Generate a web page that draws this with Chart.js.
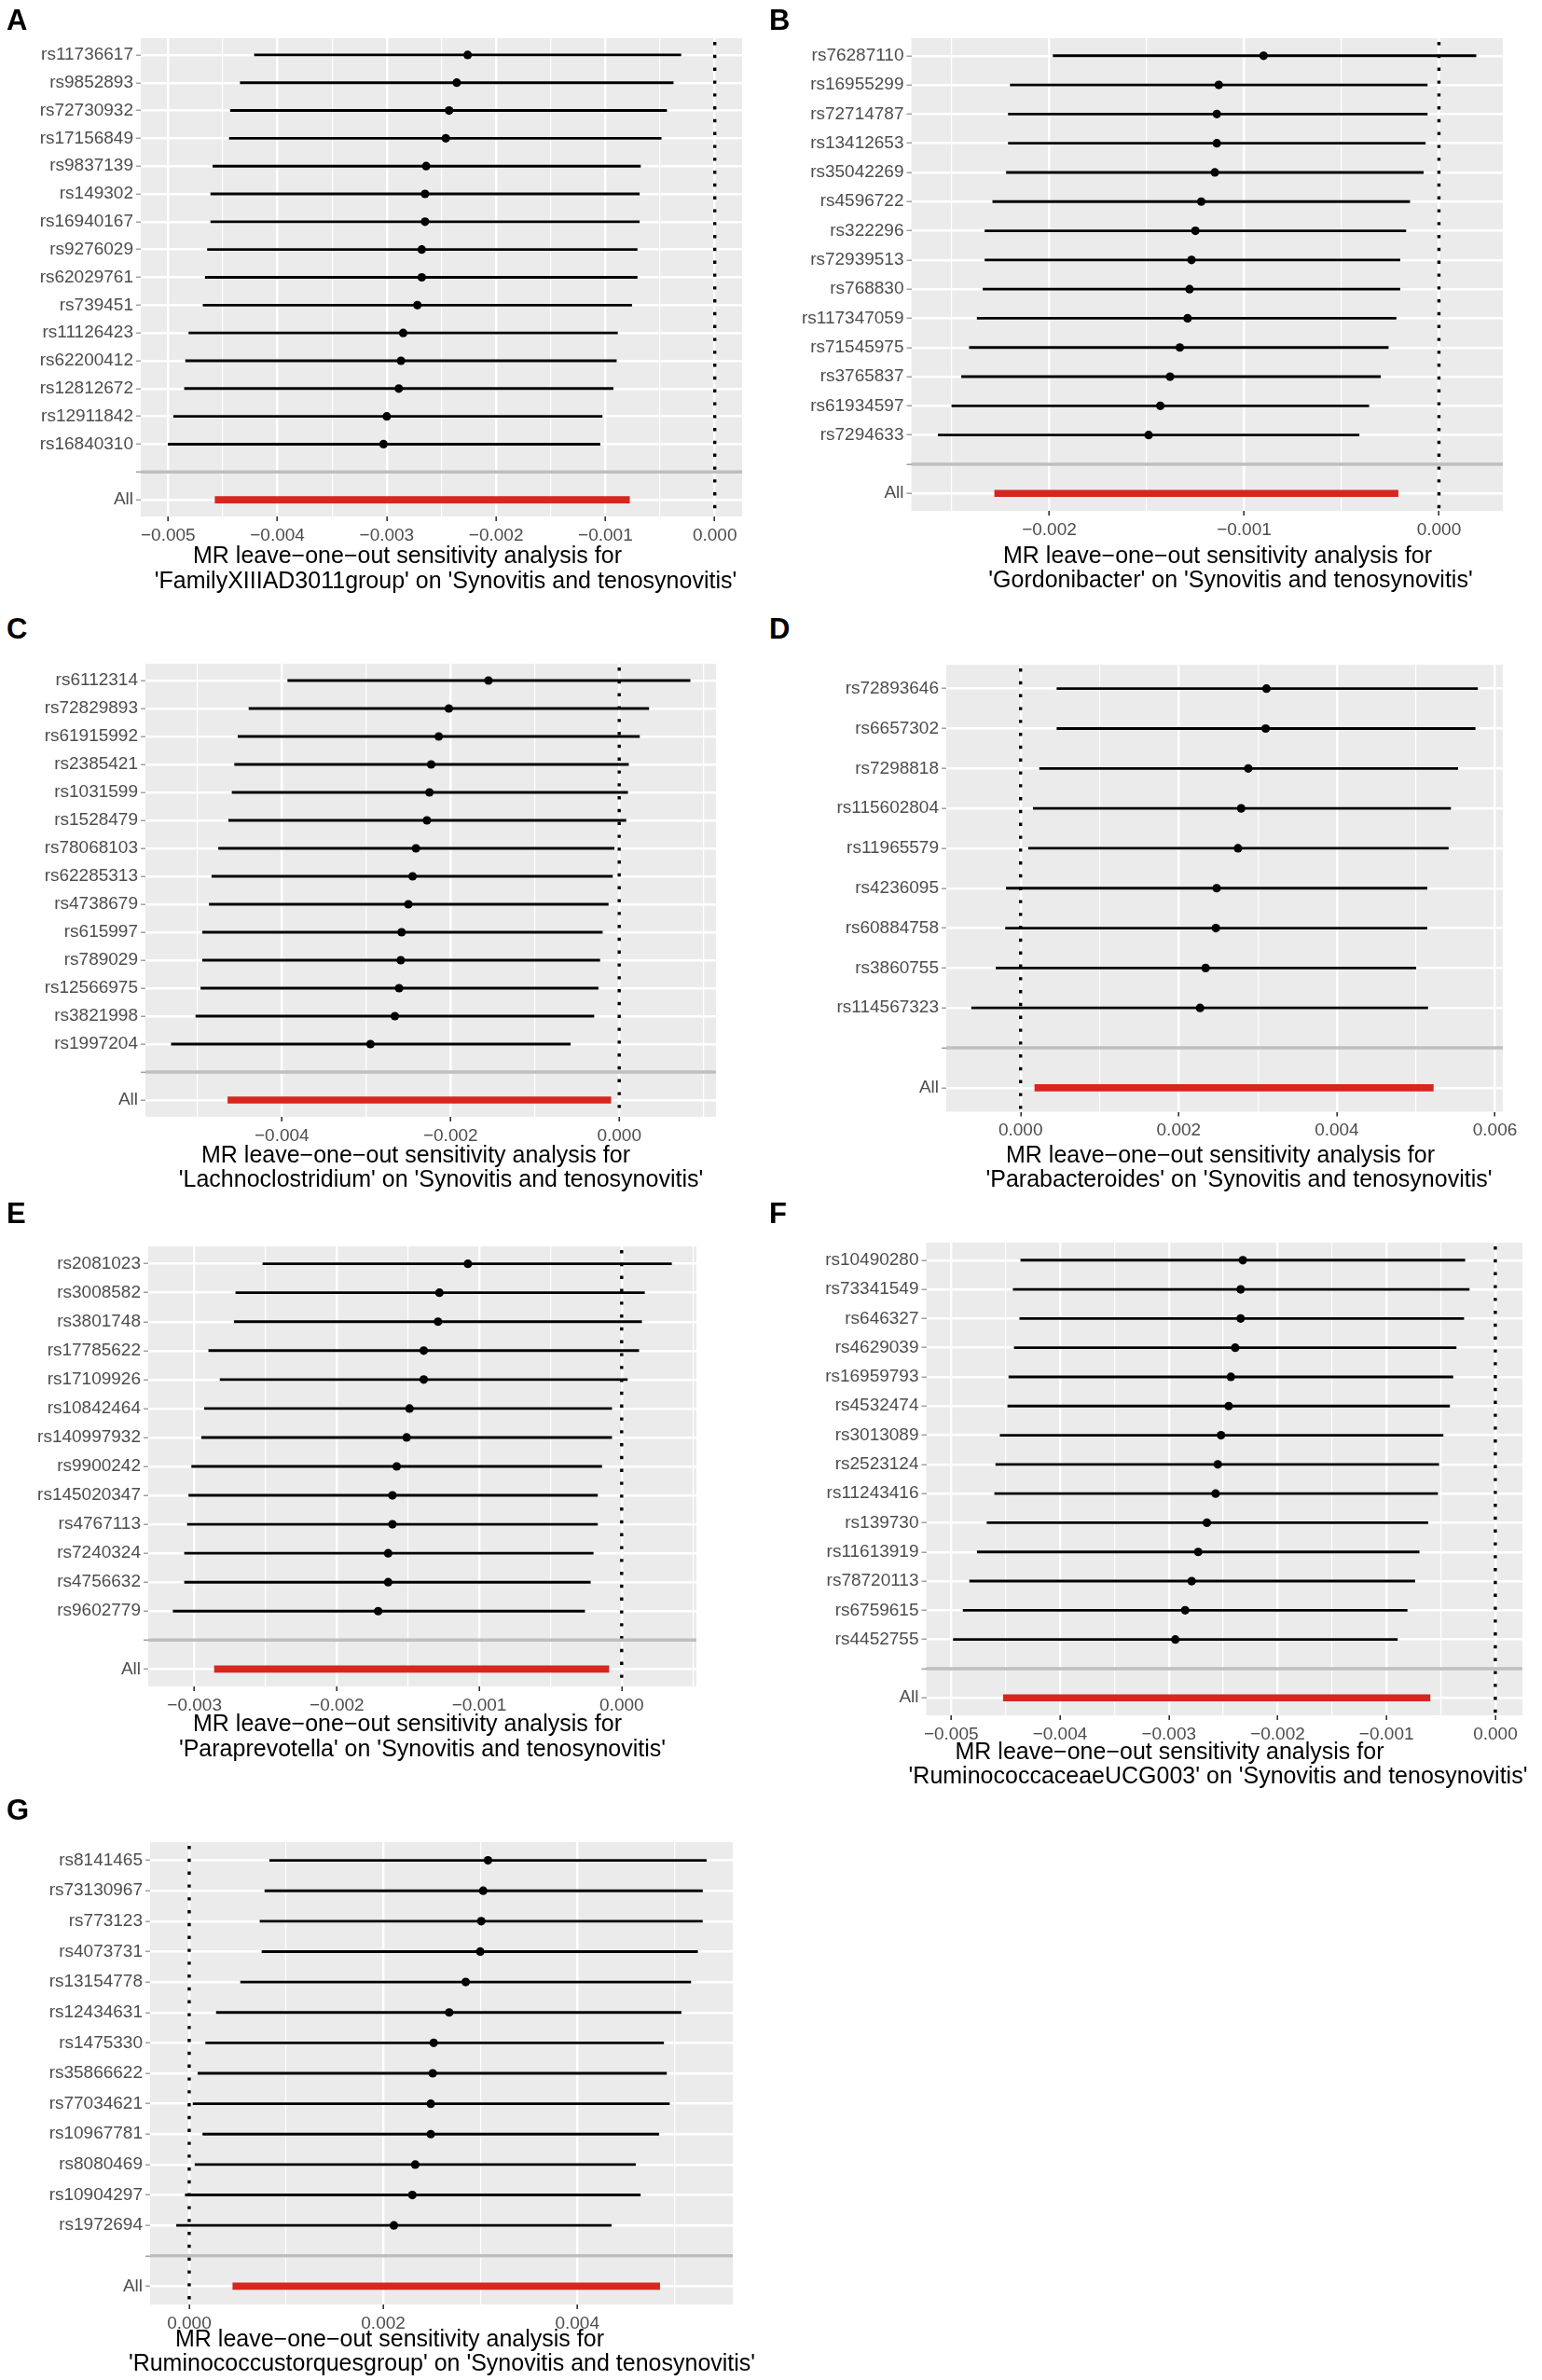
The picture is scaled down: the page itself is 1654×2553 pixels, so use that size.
<!DOCTYPE html>
<html>
<head>
<meta charset="utf-8">
<script src="https://cdn.jsdelivr.net/npm/chart.js@4.4.1/dist/chart.umd.min.js"></script>
<style>
  html, body { margin: 0; padding: 0; background: #fff; overflow: hidden; }
  #page { position: relative; width: 1654px; height: 2553px; }
  canvas { position: absolute; }
  .tag { position: absolute; font: bold 31px 'Liberation Sans', Arial, sans-serif; line-height: 1; color: #000; }
</style>
</head>
<body>
<div id="page"></div>
<script>
// ---- data (estimated from the figure) ----
// A: FamilyXIIIAD3011group
const snpsA = ['rs11736617','rs9852893','rs72730932','rs17156849','rs9837139','rs149302','rs16940167','rs9276029','rs62029761','rs739451','rs11126423','rs62200412','rs12812672','rs12911842','rs16840310'];
const betaA = [-0.00226,-0.00236,-0.00243,-0.00246,-0.00264,-0.00265,-0.00265,-0.00268,-0.00268,-0.00272,-0.00285,-0.00287,-0.00289,-0.00300,-0.00303];
const loA   = [-0.00421,-0.00434,-0.00443,-0.00444,-0.00459,-0.00461,-0.00461,-0.00464,-0.00466,-0.00468,-0.00481,-0.00484,-0.00485,-0.00495,-0.00500];
const hiA   = [-0.00031,-0.00038,-0.00044,-0.00049,-0.00068,-0.00069,-0.00069,-0.00071,-0.00071,-0.00076,-0.00089,-0.00090,-0.00093,-0.00103,-0.00105];
const allA  = [-0.00268,-0.00457,-0.00078];

// B: Gordonibacter
const snpsB = ['rs76287110','rs16955299','rs72714787','rs13412653','rs35042269','rs4596722','rs322296','rs72939513','rs768830','rs117347059','rs71545975','rs3765837','rs61934597','rs7294633'];
const betaB = [-0.00090,-0.00113,-0.00114,-0.00114,-0.00115,-0.00122,-0.00125,-0.00127,-0.00128,-0.00129,-0.00133,-0.00138,-0.00143,-0.00149];
const loB   = [-0.00198,-0.00220,-0.00221,-0.00221,-0.00222,-0.00229,-0.00233,-0.00233,-0.00234,-0.00237,-0.00241,-0.00245,-0.00250,-0.00257];
const hiB   = [0.00019,-0.00006,-0.00006,-0.00007,-0.00008,-0.00015,-0.00017,-0.00020,-0.00020,-0.00022,-0.00026,-0.00030,-0.00036,-0.00041];
const allB  = [-0.00124,-0.00228,-0.00021];

// C: Lachnoclostridium
const snpsC = ['rs6112314','rs72829893','rs61915992','rs2385421','rs1031599','rs1528479','rs78068103','rs62285313','rs4738679','rs615997','rs789029','rs12566975','rs3821998','rs1997204'];
const betaC = [-0.00155,-0.00202,-0.00214,-0.00223,-0.00225,-0.00228,-0.00241,-0.00245,-0.00250,-0.00258,-0.00259,-0.00261,-0.00266,-0.00295];
const loC   = [-0.00393,-0.00439,-0.00452,-0.00456,-0.00459,-0.00463,-0.00475,-0.00483,-0.00486,-0.00494,-0.00494,-0.00496,-0.00502,-0.00531];
const hiC   = [0.00084,0.00035,0.00024,0.00011,0.00010,0.00008,-0.00006,-0.00008,-0.00013,-0.00020,-0.00023,-0.00025,-0.00030,-0.00058];
const allC  = [-0.00237,-0.00464,-0.00010];

// D: Parabacteroides
const snpsD = ['rs72893646','rs6657302','rs7298818','rs115602804','rs11965579','rs4236095','rs60884758','rs3860755','rs114567323'];
const betaD = [0.00311,0.00310,0.00288,0.00279,0.00275,0.00248,0.00247,0.00234,0.00227];
const loD   = [0.00046,0.00046,0.00024,0.00016,0.00010,-0.00018,-0.00019,-0.00031,-0.00062];
const hiD   = [0.00578,0.00575,0.00553,0.00544,0.00541,0.00514,0.00514,0.00500,0.00515];
const allD  = [0.00270,0.00018,0.00522];

// E: Paraprevotella
const snpsE = ['rs2081023','rs3008582','rs3801748','rs17785622','rs17109926','rs10842464','rs140997932','rs9900242','rs145020347','rs4767113','rs7240324','rs4756632','rs9602779'];
const betaE = [-0.00108,-0.00128,-0.00129,-0.00139,-0.00139,-0.00149,-0.00151,-0.00158,-0.00161,-0.00161,-0.00164,-0.00164,-0.00171];
const loE   = [-0.00252,-0.00271,-0.00272,-0.00290,-0.00282,-0.00293,-0.00295,-0.00302,-0.00304,-0.00305,-0.00307,-0.00307,-0.00315];
const hiE   = [0.00035,0.00016,0.00014,0.00012,0.00004,-0.00007,-0.00007,-0.00014,-0.00017,-0.00017,-0.00020,-0.00022,-0.00026];
const allE  = [-0.00148,-0.00286,-0.00009];

// F: RuminococcaceaeUCG003
const snpsF = ['rs10490280','rs73341549','rs646327','rs4629039','rs16959793','rs4532474','rs3013089','rs2523124','rs11243416','rs139730','rs11613919','rs78720113','rs6759615','rs4452755'];
const betaF = [-0.00232,-0.00234,-0.00234,-0.00239,-0.00243,-0.00245,-0.00252,-0.00255,-0.00257,-0.00265,-0.00273,-0.00279,-0.00285,-0.00294];
const loF   = [-0.00436,-0.00443,-0.00437,-0.00442,-0.00447,-0.00448,-0.00455,-0.00459,-0.00460,-0.00467,-0.00476,-0.00483,-0.00489,-0.00498];
const hiF   = [-0.00028,-0.00024,-0.00029,-0.00036,-0.00039,-0.00042,-0.00048,-0.00052,-0.00053,-0.00062,-0.00070,-0.00074,-0.00081,-0.00090];
const allF  = [-0.00256,-0.00452,-0.00060];

// G: Ruminococcustorquesgroup
const snpsG = ['rs8141465','rs73130967','rs773123','rs4073731','rs13154778','rs12434631','rs1475330','rs35866622','rs77034621','rs10967781','rs8080469','rs10904297','rs1972694'];
const betaG = [0.00308,0.00303,0.00301,0.00300,0.00285,0.00268,0.00252,0.00251,0.00249,0.00249,0.00233,0.00230,0.00211];
const loG   = [0.00083,0.00078,0.00073,0.00075,0.00053,0.00028,0.00017,0.00009,0.00004,0.00014,0.00006,-0.00004,-0.00013];
const hiG   = [0.00533,0.00529,0.00529,0.00524,0.00517,0.00507,0.00489,0.00492,0.00495,0.00484,0.00460,0.00465,0.00435];
const allG  = [0.00265,0.00045,0.00485];

const outcome = 'Synovitis and tenosynovitis';

// ---- layout (page pixels) ----
const panels = [
  { tag: 'A', exposure: 'FamilyXIIIAD3011group', snps: snpsA, b: betaA, lo: loA, hi: hiA, all: allA, step: 0.001,
    g: { boxLeft: 0, L: 151, T: 41, R: 796, B: 554, t1y: 597, t2y: 624, c1x: 437, c2x: 478, tx: 7, ty: 10 } },
  { tag: 'B', exposure: 'Gordonibacter', snps: snpsB, b: betaB, lo: loB, hi: hiB, all: allB, step: 0.001,
    g: { boxLeft: 823, L: 977.5, T: 41, R: 1611.5, B: 548, t1y: 597, t2y: 623, c1x: 1306, c2x: 1320, tx: 825, ty: 10 } },
  { tag: 'C', exposure: 'Lachnoclostridium', snps: snpsC, b: betaC, lo: loC, hi: hiC, all: allC, step: 0.002,
    g: { boxLeft: 0, L: 156, T: 712, R: 768, B: 1198, t1y: 1240, t2y: 1266, c1x: 446, c2x: 473, tx: 7, ty: 663 } },
  { tag: 'D', exposure: 'Parabacteroides', snps: snpsD, b: betaD, lo: loD, hi: hiD, all: allD, step: 0.002,
    g: { boxLeft: 823, L: 1015, T: 713, R: 1611.5, B: 1192.5, t1y: 1240, t2y: 1266, c1x: 1309, c2x: 1329, tx: 825, ty: 663 } },
  { tag: 'E', exposure: 'Paraprevotella', snps: snpsE, b: betaE, lo: loE, hi: hiE, all: allE, step: 0.001,
    g: { boxLeft: 0, L: 159, T: 1337, R: 747, B: 1809, t1y: 1850, t2y: 1877, c1x: 437, c2x: 453, tx: 7, ty: 1290 } },
  { tag: 'F', exposure: 'RuminococcaceaeUCG003', snps: snpsF, b: betaF, lo: loF, hi: hiF, all: allF, step: 0.001,
    g: { boxLeft: 823, L: 993.5, T: 1333, R: 1633, B: 1840, t1y: 1880, t2y: 1906, c1x: 1254.5, c2x: 1306.5, tx: 825, ty: 1290 } },
  { tag: 'G', exposure: 'Ruminococcustorquesgroup', snps: snpsG, b: betaG, lo: loG, hi: hiG, all: allG, step: 0.002,
    g: { boxLeft: 0, L: 161, T: 1976, R: 786, B: 2472, t1y: 2510, t2y: 2536, c1x: 418, c2x: 474, tx: 7, ty: 1930 } }
];

Chart.defaults.font.family = "'Liberation Sans', Arial, sans-serif";
const page = document.getElementById('page');

function fmt(v) {
  if (Math.abs(v) < 1e-12) return '0.000';
  return (v < 0 ? '\u2212' : '') + Math.abs(v).toFixed(3);
}

function makePanel(p) {
  const g = p.g;
  const labels = [...p.snps, '', 'All'];
  const n = labels.length;
  const blank = n - 2, allIdx = n - 1;

  // ggplot-like limits: data range incl. the 0 line, expanded by 5%
  const vals = [...p.lo, ...p.hi, p.all[1], p.all[2], 0];
  const dMin = Math.min(...vals), dMax = Math.max(...vals);
  const ex = (dMax - dMin) * 0.05;
  const xmin = dMin - ex, xmax = dMax + ex;
  const half = p.step / 2;
  const isMajor = v => Math.abs(Math.round(v / half)) % 2 === 0;

  const padTop = 20, padRight = Math.min(40, 1654 - g.R);
  const left = g.boxLeft, top = g.T - padTop;
  const width = Math.round(g.R - left + padRight);
  const height = Math.round(g.t2y + 24 - top);
  const yW = g.L - left;
  const xH = height - padTop - (g.B - g.T);

  const cv = document.createElement('canvas');
  cv.width = width; cv.height = height;
  cv.style.left = left + 'px'; cv.style.top = top + 'px';
  cv.style.width = width + 'px'; cv.style.height = height + 'px';
  page.appendChild(cv);

  const tag = document.createElement('div');
  tag.className = 'tag';
  tag.textContent = p.tag;
  tag.style.left = g.tx + 'px';
  tag.style.top = (g.ty - 4) + 'px';
  page.appendChild(tag);

  const panelBg = {
    id: 'panelBg',
    beforeDraw(chart) {
      const { ctx, chartArea: a } = chart;
      ctx.save();
      ctx.fillStyle = '#EBEBEB';
      ctx.fillRect(a.left, a.top, a.right - a.left, a.bottom - a.top);
      ctx.restore();
    }
  };
  const zeroLine = {
    id: 'zeroLine',
    beforeDatasetsDraw(chart) {
      const { ctx, chartArea: a, scales } = chart;
      const x = scales.x.getPixelForValue(0);
      ctx.save();
      ctx.strokeStyle = '#000';
      ctx.lineWidth = 3.4;
      ctx.setLineDash([3.4, 10.4]);
      ctx.beginPath();
      ctx.moveTo(x, a.top + 4);
      ctx.lineTo(x, a.bottom);
      ctx.stroke();
      ctx.restore();
    }
  };
  const separator = {
    id: 'separator',
    afterDatasetsDraw(chart) {
      const { ctx, chartArea: a, scales } = chart;
      const y = scales.y.getPixelForValue(blank);
      ctx.save();
      ctx.strokeStyle = '#BEBEBE';
      ctx.lineWidth = 3.6;
      ctx.beginPath();
      ctx.moveTo(a.left, y);
      ctx.lineTo(a.right, y);
      ctx.stroke();
      ctx.restore();
    }
  };
  const axisTitle = {
    id: 'axisTitle',
    afterDraw(chart) {
      const ctx = chart.ctx;
      ctx.save();
      ctx.fillStyle = '#000';
      ctx.font = "25px 'Liberation Sans', Arial, sans-serif";
      ctx.textAlign = 'center';
      ctx.textBaseline = 'middle';
      ctx.fillText('MR leave\u2212one\u2212out sensitivity analysis for', g.c1x - left, g.t1y - top);
      ctx.fillText("'" + p.exposure + "' on '" + outcome + "'", g.c2x - left, g.t2y - top);
      ctx.restore();
    }
  };

  return new Chart(cv, {
    type: 'bar',
    data: {
      datasets: [
        {
          type: 'line',
          data: p.snps.map((s, i) => ({ x: p.b[i], y: i })),
          showLine: false,
          pointRadius: 4.6,
          pointBackgroundColor: '#000',
          pointBorderWidth: 0,
          order: 0
        },
        {
          data: [{ x: [p.all[1], p.all[2]], y: allIdx }],
          backgroundColor: '#D7261E',
          barThickness: 7,
          grouped: false,
          order: 1
        },
        {
          data: p.snps.map((s, i) => ({ x: [p.lo[i], p.hi[i]], y: i })),
          backgroundColor: '#000',
          barThickness: 2.2,
          grouped: false,
          order: 2
        }
      ]
    },
    options: {
      indexAxis: 'y',
      responsive: false,
      animation: false,
      events: [],
      layout: { padding: { top: padTop, right: padRight, left: 0, bottom: 0 } },
      plugins: { legend: { display: false }, tooltip: { enabled: false } },
      scales: {
        x: {
          type: 'linear',
          min: xmin,
          max: xmax,
          afterBuildTicks: s => {
            const t = [];
            const k0 = Math.ceil(xmin / half - 1e-9), k1 = Math.floor(xmax / half + 1e-9);
            for (let k = k0; k <= k1; k++) t.push({ value: k * half });
            s.ticks = t;
          },
          afterFit: s => { s.height = xH; },
          border: { display: false },
          grid: {
            color: '#FFFFFF',
            lineWidth: c => (c.tick && !isMajor(c.tick.value)) ? 1.2 : 2.4,
            drawTicks: true,
            tickLength: 5,
            tickWidth: 1.6,
            tickColor: c => (c.tick && !isMajor(c.tick.value)) ? 'rgba(0,0,0,0)' : '#333333'
          },
          ticks: {
            autoSkip: false,
            maxRotation: 0,
            padding: 4,
            color: '#4D4D4D',
            font: { size: 19 },
            callback: v => isMajor(v) ? fmt(v) : ''
          }
        },
        y: {
          type: 'linear',
          reverse: true,
          offset: false,
          min: -0.6,
          max: n - 1 + 0.6,
          afterBuildTicks: s => { s.ticks = labels.map((_, i) => ({ value: i })); },
          afterFit: s => { s.width = yW; },
          border: { display: false },
          grid: {
            offset: false,
            color: '#FFFFFF',
            lineWidth: 2.4,
            drawTicks: true,
            tickLength: 5,
            tickWidth: 1.2,
            tickColor: '#8A8A8A'
          },
          ticks: {
            autoSkip: false,
            padding: 3,
            color: '#4D4D4D',
            font: { size: 19 },
            callback: v => labels[v]
          }
        }
      }
    },
    plugins: [panelBg, zeroLine, separator, axisTitle]
  });
}

panels.forEach(makePanel);
</script>
</body>
</html>
